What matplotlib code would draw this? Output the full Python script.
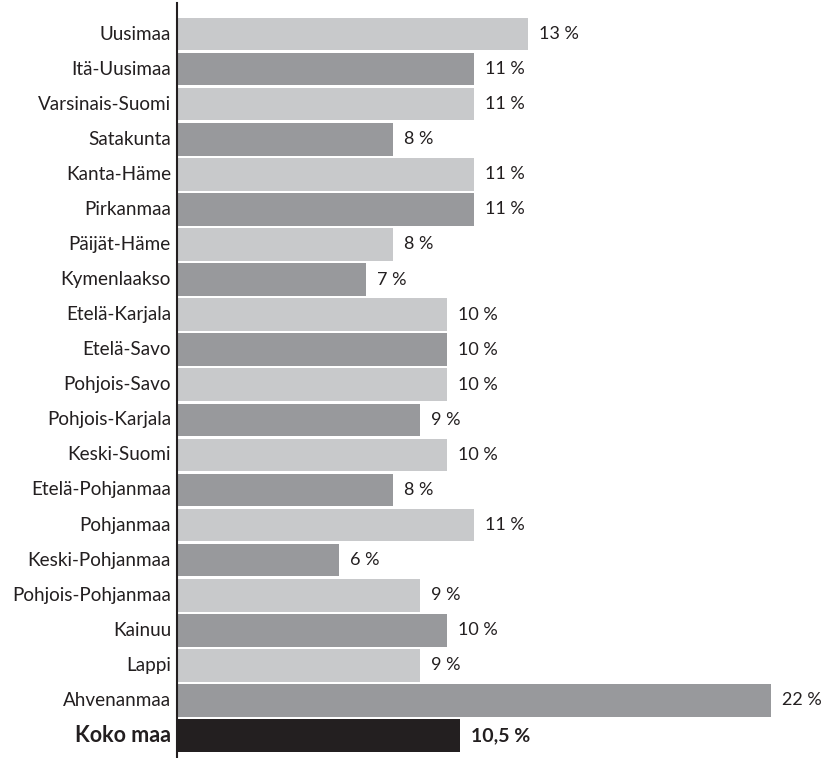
import matplotlib.pyplot as plt

regions = ['Uusimaa', 'Itä-Uusimaa', 'Varsinais-Suomi', 'Satakunta', 'Kanta-Häme',
           'Pirkanmaa', 'Päijät-Häme', 'Kymenlaakso', 'Etelä-Karjala', 'Etelä-Savo',
           'Pohjois-Savo', 'Pohjois-Karjala', 'Keski-Suomi', 'Etelä-Pohjanmaa',
           'Pohjanmaa', 'Keski-Pohjanmaa', 'Pohjois-Pohjanmaa', 'Kainuu', 'Lappi',
           'Ahvenanmaa', 'Koko maa']
values = [13, 11, 11, 8, 11, 11, 8, 7, 10, 10, 10, 9, 10, 8, 11, 6, 9, 10, 9, 22, 10.5]
value_labels = ['13 %', '11 %', '11 %', '8 %', '11 %', '11 %', '8 %', '7 %', '10 %',
                '10 %', '10 %', '9 %', '10 %', '8 %', '11 %', '6 %', '9 %', '10 %',
                '9 %', '22 %', '10,5 %']

light = '#c8c9cb'
dark = '#98999c'
black = '#231f20'

plt.rcParams['font.family'] = ['Lato', 'DejaVu Sans']

fig = plt.figure(figsize=(8.29, 7.58), dpi=100)
ax = fig.add_axes([177 / 829, 0, 1 - 177 / 829, 1])

n = len(regions)
colors = [light if i % 2 == 0 else dark for i in range(n - 1)] + [black]
ypos = list(range(n))
ax.barh(ypos, values, height=0.93, color=colors, left=0)

pitch = 35.075
ax.set_ylim((758 - 34) / pitch, -34 / pitch)
ax.set_xlim(0, (829 - 177) / 27.0)

for i, (v, lab) in enumerate(zip(values, value_labels)):
    last = i == n - 1
    ax.text(v + 11 / 27.0, i, lab, va='center', ha='left',
            fontsize=14 if last else 13, color=black,
            fontweight='bold' if last else 'normal')
    ax.text(-6 / 27.0, i, regions[i], va='center', ha='right',
            fontsize=15.5 if last else 13.6, color=black,
            fontweight='bold' if last else 'normal')

for s in ['top', 'right', 'bottom']:
    ax.spines[s].set_visible(False)
ax.spines['left'].set_color(black)
ax.spines['left'].set_linewidth(1.5)
ax.spines['left'].set_bounds((758 - 34) / pitch, -31 / pitch)
ax.set_xticks([])
ax.set_yticks([])

fig.savefig('out.png', dpi=100)
